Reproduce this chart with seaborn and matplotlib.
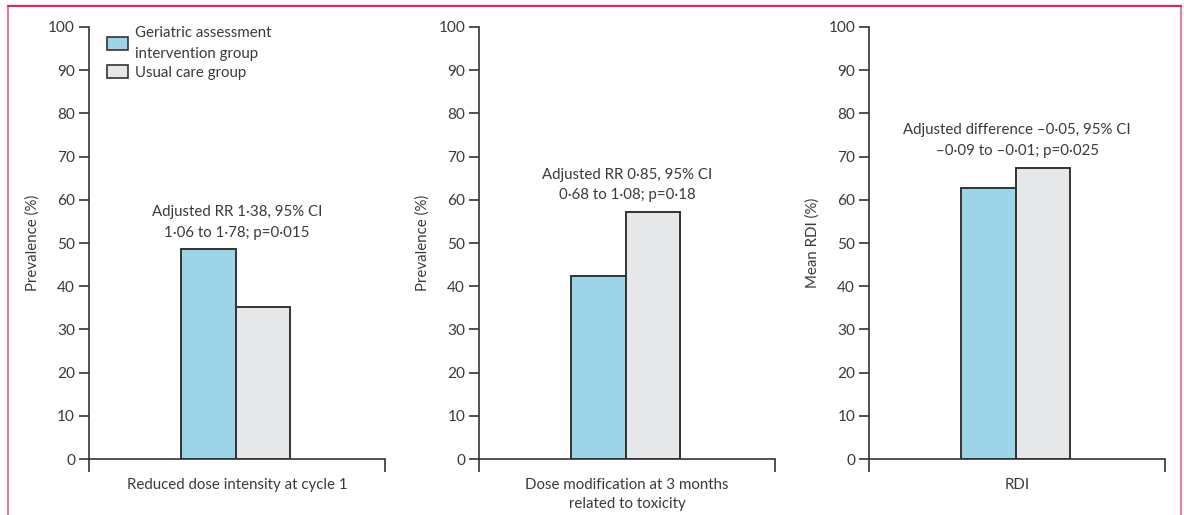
import pandas as pd
import matplotlib.pyplot as plt
import seaborn as sns
from matplotlib.lines import Line2D

# ---- data ----
outcomes = ['Reduced dose intensity at cycle 1',
            'Dose modification at 3 months\nrelated to toxicity',
            'RDI']
groups = ['Geriatric assessment\nintervention group', 'Usual care group']
ga_values = [48.5, 42.4, 62.7]
usual_values = [35.2, 57.1, 67.4]
y_labels = ['Prevalence (%)', 'Prevalence (%)', 'Mean RDI (%)']
notes = ['Adjusted RR 1·38, 95% CI\n1·06 to 1·78; p=0·015',
         'Adjusted RR 0·85, 95% CI\n0·68 to 1·08; p=0·18',
         'Adjusted difference \u20130·05, 95% CI\n\u20130·09 to \u20130·01; p=0·025']
y_ticks = list(range(0, 101, 10))

colors = ['#9dd5e8', '#e6e7e9']
text_col = '#3a3a3a'

sns.set_style('white')
plt.rcParams['font.family'] = ['Lato', 'DejaVu Sans']
plt.rcParams['text.color'] = text_col
plt.rcParams['axes.labelcolor'] = text_col
plt.rcParams['xtick.color'] = text_col
plt.rcParams['ytick.color'] = text_col

fs = 10.8
fig = plt.figure(figsize=(11.84, 5.15), dpi=100)
lefts = [0.0752, 0.4046, 0.734]
width = 0.25
bottom, top = 0.1087, 0.9476

for i, outcome in enumerate(outcomes):
    ax = fig.add_axes([lefts[i], bottom, width, top - bottom])
    df = pd.DataFrame({
        'outcome': [outcome, outcome],
        'group': groups,
        'value': [ga_values[i], usual_values[i]],
    })
    sns.barplot(data=df, x='outcome', y='value', hue='group', palette=colors,
                saturation=1, edgecolor='#333333', linewidth=1.4, width=0.8,
                ax=ax, legend=(i == 0))

    ax.set_xlim(-1.08, 1.1)
    ax.set_ylim(0, 100)
    ax.set_yticks(y_ticks)
    ax.set_xticks([-1.08, 1.1])
    ax.set_xticklabels(['', ''])
    ax.tick_params(axis='both', bottom=True, left=True, direction='out',
                   length=7, width=1.2, labelsize=fs + 0.3, color='#333333', pad=3)
    ax.tick_params(axis='x', length=9)
    ax.set_xlabel(outcome, fontsize=fs, labelpad=2, linespacing=1.45)
    ax.set_ylabel(y_labels[i], fontsize=fs, labelpad=6)
    for side in ['top', 'right']:
        ax.spines[side].set_visible(False)
    for side in ['left', 'bottom']:
        ax.spines[side].set_color('#333333')
        ax.spines[side].set_linewidth(1.2)

    top_bar = max(ga_values[i], usual_values[i])
    ax.text(0.01, top_bar + 6.3, notes[i], ha='center', va='center',
            fontsize=fs, linespacing=1.6)

    if i == 0:
        leg = ax.legend(loc='upper left', bbox_to_anchor=(0.04, 1.016),
                        frameon=False, fontsize=fs, handlelength=1.4,
                        handleheight=0.9, handletextpad=0.45,
                        labelspacing=0.3, borderaxespad=0)
        for t in leg.get_texts():
            t.set_linespacing(1.6)
        for h in leg.legend_handles:
            h.set_edgecolor('#333333')
            h.set_linewidth(1.2)

# pink frame round the figure (open at the bottom)
fig.add_artist(Line2D([0.0068, 0.0068], [0.0, 0.988], color='#dc86a0', lw=1.6))
fig.add_artist(Line2D([0.9975, 0.9975], [0.0, 0.988], color='#dc86a0', lw=1.6))
fig.add_artist(Line2D([0.0068, 0.9975], [0.988, 0.988], color='#d42a5c', lw=1.6))

fig.savefig('out.png', dpi=100)
